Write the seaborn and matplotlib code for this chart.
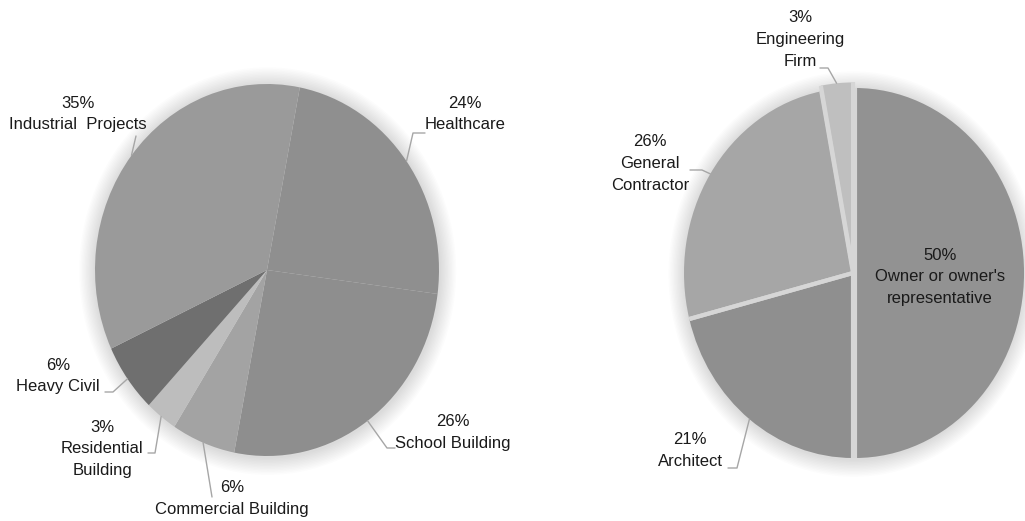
import numpy as np
import matplotlib
matplotlib.use("Agg")
import matplotlib.pyplot as plt
from matplotlib.patches import Ellipse
import seaborn as sns

# ---------------- data ----------------
left_labels = ["Healthcare", "School Building", "Commercial Building",
               "Residential\nBuilding", "Heavy Civil", "Industrial  Projects"]
left_values = [24, 26, 6, 3, 6, 35]
left_colors = ["#8f8f8f", "#8e8e8e", "#a3a3a3", "#bdbdbd", "#6f6f6f", "#9a9a9a"]

right_labels = ["Owner or owner's\nrepresentative", "Architect",
                "General\nContractor", "Engineering\nFirm"]
right_values = [50, 21, 26, 3]
right_colors = ["#929292", "#8f8f8f", "#a6a6a6", "#bfbfbf"]
right_explode = [0.012, 0.0, 0.0, 0.03]

sns.set_theme(style="white")
plt.rcParams["font.family"] = ["Liberation Sans", "DejaVu Sans"]

W, H = 1025, 521
fig = plt.figure(figsize=(W / 100, H / 100), dpi=100)
fig.patch.set_facecolor("white")

FS = 12
LH = 21.5  # line step in pixels
TXT = "#1a1a1a"
LEAD = "#a6a6a6"
GAP = "#d6d6d6"


def pie_axes(cx, cy, rx, ry, pad=1.25):
    ax = fig.add_axes([(cx - pad * rx) / W, (H - cy - pad * ry) / H,
                       2 * pad * rx / W, 2 * pad * ry / H])
    return ax


def shadow(ax):
    for k in range(12):
        s = 1.0 + 0.008 * (k + 1)
        ax.add_patch(Ellipse((0.004, -0.006), 2 * s, 2 * s, color="black",
                             alpha=0.011, lw=0, zorder=0))


def draw_pie(ax, values, colors, start, explode=None):
    shadow(ax)
    wedges, _ = ax.pie(values, colors=colors, startangle=start,
                       counterclock=False, radius=1.0, explode=explode,
                       wedgeprops=dict(edgecolor="none", linewidth=0))
    for w in wedges:
        w.set_zorder(2)
    ax.set_aspect("auto")
    ax.set_xlim(-1.25, 1.25)
    ax.set_ylim(-1.25, 1.25)
    ax.axis("off")
    return wedges


def separators(ax, wedges, lw):
    for w in wedges:
        ox, oy = w.center
        for th in (w.theta1, w.theta2):
            t = np.deg2rad(th)
            ax.plot([ox, ox + w.r * np.cos(t)], [oy, oy + w.r * np.sin(t)],
                    color=GAP, lw=lw, solid_capstyle="butt", zorder=3)


# overlay axes in pixel coordinates for labels and leaders
ov = fig.add_axes([0, 0, 1, 1], zorder=10)
ov.set_xlim(0, W)
ov.set_ylim(H, 0)
ov.axis("off")
ov.patch.set_alpha(0)


def mid_point(wedge, cx, cy, rx, ry, r=1.0):
    th = np.deg2rad((wedge.theta1 + wedge.theta2) / 2)
    ox, oy = wedge.center
    return (cx + rx * (ox + r * np.cos(th)), cy - ry * (oy + r * np.sin(th)))


def label(x, y0, text):
    for i, line in enumerate(text.split("\n")):
        ov.text(x, y0 + i * LH, line, ha="center", va="center",
                fontsize=FS, color=TXT)


# ---------------- left pie ----------------
L_CX, L_CY, L_RX, L_RY = 267, 270, 172, 186
axL = pie_axes(L_CX, L_CY, L_RX, L_RY)
wl = draw_pie(axL, left_values, left_colors, start=79)

# label layout: (text x, first line y, leader path after the edge point)
left_layout = [
    (465, 103, [(413, 133), (425, 133)]),
    (453, 422, [(387, 448), (395, 448)]),
    (232, 488, [(212, 497)]),
    (102, 427, [(155, 453), (148, 453)]),
    (58, 365, [(113, 392), (105, 392)]),
    (78, 103, [(136, 136)]),
]
for w, lab, v, (tx, ty, path) in zip(wl, left_labels, left_values, left_layout):
    p = mid_point(w, L_CX, L_CY, L_RX, L_RY)
    pts = [p] + path
    ov.plot([q[0] for q in pts], [q[1] for q in pts], color=LEAD, lw=1)
    label(tx, ty, f"{v}%\n{lab}")

# ---------------- right pie ----------------
R_CX, R_CY, R_RX, R_RY = 853, 273, 169, 185
axR = pie_axes(R_CX, R_CY, R_RX, R_RY)
wr = draw_pie(axR, right_values, right_colors, start=90, explode=right_explode)
separators(axR, wr, lw=3.0)

right_layout = [
    (940, 255, None),
    (690, 440, [(737, 468), (728, 468)]),
    (650, 142, [(702, 170), (690, 170)]),
    (800, 18, [(828, 68), (820, 68)]),
]
for w, lab, v, (tx, ty, path) in zip(wr, right_labels, right_values, right_layout):
    if path:
        p = mid_point(w, R_CX, R_CY, R_RX, R_RY)
        pts = [p] + path
        ov.plot([q[0] for q in pts], [q[1] for q in pts], color=LEAD, lw=1)
    label(tx, ty, f"{v}%\n{lab}")

fig.savefig("out.png", dpi=100, facecolor="white")
